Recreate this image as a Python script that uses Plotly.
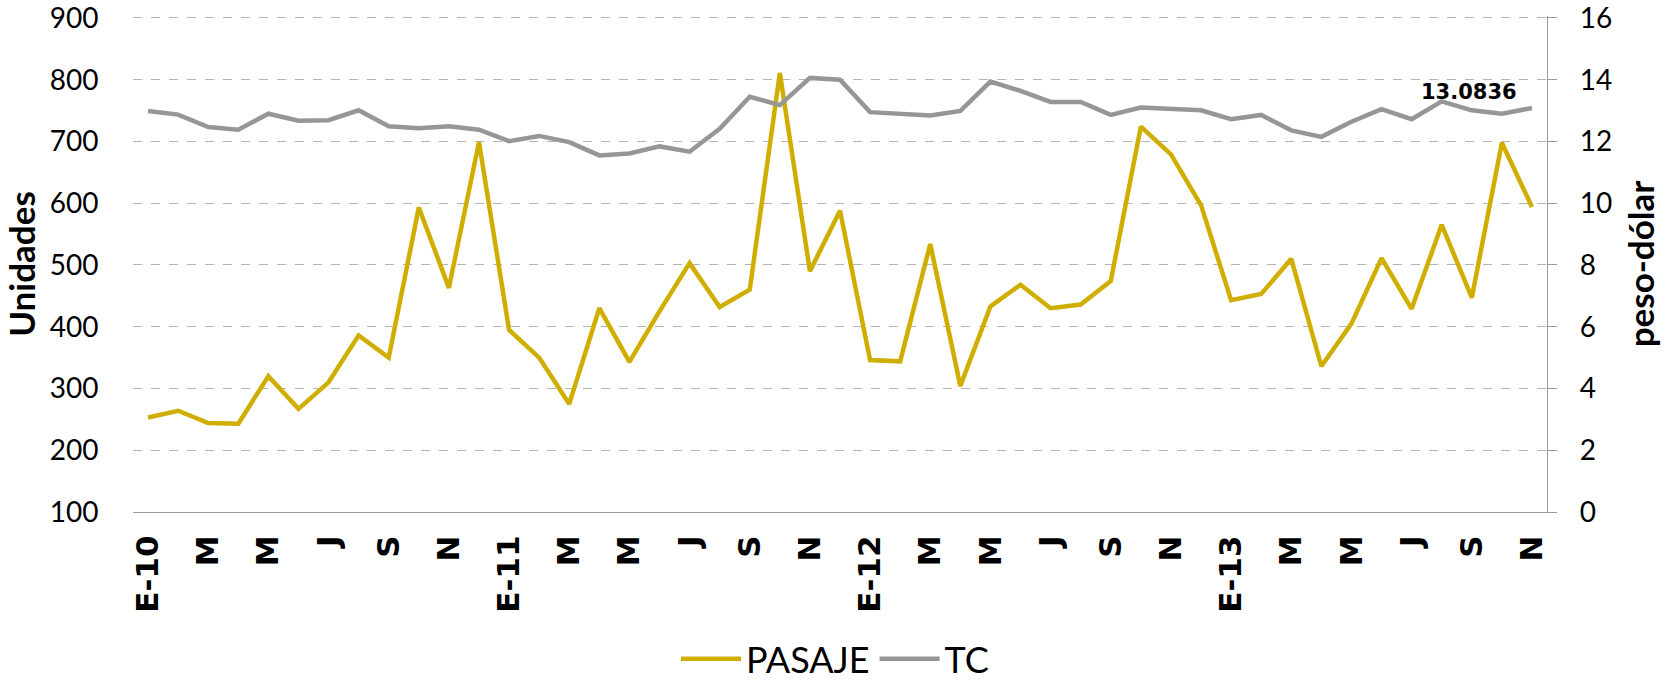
import plotly.graph_objects as go

# Meses de enero 2010 a noviembre 2013
meses = ["E-10", "F", "M", "A", "M", "J", "J", "A", "S", "O", "N", "D",
         "E-11", "F", "M", "A", "M", "J", "J", "A", "S", "O", "N", "D",
         "E-12", "F", "M", "A", "M", "J", "J", "A", "S", "O", "N", "D",
         "E-13", "F", "M", "A", "M", "J", "J", "A", "S", "O", "N"]

pasaje = [253, 264, 244, 243, 320, 267, 310, 386, 350, 593, 463, 699,
          395, 350, 275, 430, 343, 425, 503, 432, 460, 811, 490, 588,
          346, 344, 534, 304, 433, 468, 430, 436, 474, 724, 679, 597,
          443, 453, 510, 336, 405, 511, 429, 565, 447, 698, 594]

tc = [12.99, 12.87, 12.47, 12.38, 12.90, 12.67, 12.69, 13.01, 12.49, 12.43, 12.49, 12.38,
      12.01, 12.18, 11.98, 11.55, 11.61, 11.84, 11.67, 12.41, 13.45, 13.18, 14.06, 14.00,
      12.95, 12.90, 12.84, 12.99, 13.94, 13.64, 13.28, 13.28, 12.86, 13.10, 13.05, 13.01,
      12.72, 12.86, 12.36, 12.15, 12.64, 13.05, 12.72, 13.30, 13.01, 12.90, 13.0836]

x = list(range(len(meses)))
tick_pos = x[::2]
tick_txt = meses[::2]

fig = go.Figure()
fig.add_trace(go.Scatter(x=x, y=pasaje, name="PASAJE", mode="lines",
                         line=dict(color="#D0AE00", width=4.5)))
fig.add_trace(go.Scatter(x=x, y=tc, name="TC", mode="lines", yaxis="y2",
                         line=dict(color="#969696", width=4.5)))

# etiqueta del ultimo dato del tipo de cambio
fig.add_annotation(x=43.9, y=13.6, yref="y2", text="13.0836", showarrow=False,
                   font=dict(family="DejaVu Sans", size=21, color="black", weight="bold"))

fig.update_layout(
    width=1675, height=680,
    margin=dict(l=133, r=128, t=16, b=168),
    plot_bgcolor="white", paper_bgcolor="white",
    font=dict(family="Lato", color="black"),
    showlegend=True,
    legend=dict(orientation="h", x=0.4985, xanchor="center", xref="container",
                y=0.031, yanchor="middle", yref="container",
                font=dict(size=36), itemwidth=60),
    xaxis=dict(range=[-0.5, 46.5], tickmode="array", tickvals=tick_pos, ticktext=tick_txt,
               tickangle=-90, tickfont=dict(family="DejaVu Sans", size=31, weight="bold"),
               showgrid=False, showline=True, linecolor="#9a9a9a", linewidth=1.2,
               ticks="outside", ticklen=10, tickcolor="rgba(0,0,0,0)",
               zeroline=False, automargin=False),
    # el tope queda 2 px sobre la linea de 900 para que se dibuje la rejilla
    yaxis=dict(range=[100, 903.2], tickvals=[100, 200, 300, 400, 500, 600, 700, 800, 900],
               tickfont=dict(size=28), ticklabeloverflow="allow",
               ticks="outside", ticklen=28, tickcolor="rgba(0,0,0,0)",
               title=dict(text="Unidades", font=dict(size=35, weight="bold"), standoff=4),
               showgrid=True, gridcolor="#b3b3b3", griddash="dash", gridwidth=1,
               zeroline=False, showline=False, automargin=False),
    yaxis2=dict(range=[0, 16.064], tickvals=[0, 2, 4, 6, 8, 10, 12, 14, 16],
                overlaying="y", side="right",
                tickfont=dict(size=28), ticklabeloverflow="allow", ticklabelstandoff=17,
                title=dict(text="peso-dólar", font=dict(size=35, weight="bold"), standoff=18),
                showgrid=False, zeroline=False, showline=True, linecolor="#9a9a9a",
                linewidth=1.2, ticks="outside", ticklen=9, tickcolor="#9a9a9a",
                automargin=False),
)

fig.write_html("out.html", config={"displayModeBar": False},
               post_script="document.body.style.margin = '0';")
